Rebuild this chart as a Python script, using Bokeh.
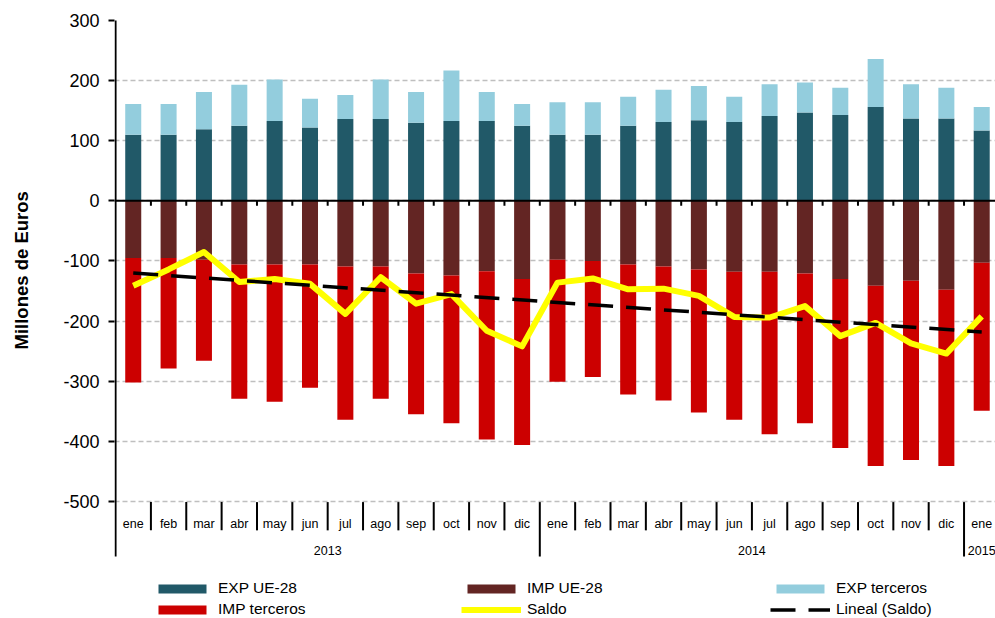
import numpy as np
from bokeh.plotting import figure
from bokeh.models import Range1d, FixedTicker, Span, Legend, LegendItem, Title
from bokeh.core.properties import value
from bokeh.embed import file_html
from bokeh.resources import INLINE

# ---------------- data ----------------
months = ["ene", "feb", "mar", "abr", "may", "jun", "jul", "ago", "sep", "oct", "nov", "dic",
          "ene", "feb", "mar", "abr", "may", "jun", "jul", "ago", "sep", "oct", "nov", "dic",
          "ene"]
years = ["2013"] * 12 + ["2014"] * 12 + ["2015"]

exp_ue28 = [110, 110, 119, 125, 133, 122, 136, 136, 130, 133, 133, 125,
            110, 110, 125, 131, 134, 131, 141, 147, 143, 156, 137, 137,
            117]
exp_terceros = [51, 51, 62, 68, 69, 48, 40, 66, 51, 84, 48, 36,
                54, 54, 48, 54, 57, 42, 53, 50, 45, 80, 57, 51,
                39]
imp_ue28 = [-95, -95, -98, -106, -106, -106, -109, -109, -121, -124, -117, -130,
            -98, -100, -106, -109, -114, -118, -118, -121, -130, -141, -133, -148,
            -103]
imp_terceros = [-207, -184, -168, -223, -228, -205, -255, -220, -234, -246, -280, -276,
                -203, -193, -216, -223, -238, -246, -270, -249, -281, -300, -298, -293,
                -246]
saldo = [-141, -114, -85, -135, -130, -138, -188, -127, -171, -155, -216, -242,
         -136, -129, -147, -146, -158, -193, -194, -175, -225, -203, -237, -254,
         -192]
lineal_saldo = [-120, -218]   # trend line value at first and last month
y_ticks = [300, 200, 100, 0, -100, -200, -300, -400, -500]

# ---------------- styles ----------------
C_EXP_UE = "#215968"
C_IMP_UE = "#632523"
C_EXP_T = "#93CDDD"
C_IMP_T = "#CC0000"
C_SALDO = "#FFFF00"
FONT = "Liberation Sans"

n = len(months)
x = np.arange(n) + 0.5
exp_ue_a = np.array(exp_ue28, dtype=float)
exp_t_a = np.array(exp_terceros, dtype=float)
imp_ue_a = np.array(imp_ue28, dtype=float)
imp_t_a = np.array(imp_terceros, dtype=float)

AX_BOTTOM = -591.5   # where the category axis lines end
p = figure(width=995, height=618, output_backend="svg", toolbar_location=None,
           x_range=Range1d(-0.03, 24.89), y_range=Range1d(-694.6, 300),
           x_axis_location=None, min_border_left=114, min_border_right=0,
           min_border_top=20, min_border_bottom=0)
p.outline_line_color = None
p.background_fill_color = "white"
p.xgrid.visible = False

# y axis (line drawn separately so that it stops at the category axis)
ax = p.yaxis[0]
ax.ticker = FixedTicker(ticks=y_ticks)
ax.major_label_overrides = {t: str(t) for t in y_ticks}
ax.axis_line_color = None
ax.major_tick_line_color = "black"
ax.major_tick_line_width = 2
ax.major_tick_out = 6
ax.major_tick_in = 0
ax.minor_tick_line_color = None
ax.major_label_standoff = 9
ax.major_label_text_font = FONT
ax.major_label_text_font_size = "18px"
ax.major_label_text_color = "black"
# blank spacer label: widens the axis panel so that the title sits further left
ax.axis_label = " "
ax.axis_label_text_font_size = "2px"
ax.axis_label_standoff = 18

g = p.ygrid[0]
g.ticker = FixedTicker(ticks=y_ticks)
g.grid_line_color = "#BFBFBF"
g.grid_line_width = 1.5
g.grid_line_dash = "5 3"

bw = 0.453
r_exp_ue = p.vbar(x=x, bottom=0, top=exp_ue_a, width=bw, fill_color=C_EXP_UE, line_color=None)
r_exp_t = p.vbar(x=x, bottom=exp_ue_a, top=exp_ue_a + exp_t_a, width=bw, fill_color=C_EXP_T, line_color=None)
r_imp_ue = p.vbar(x=x, bottom=0, top=imp_ue_a, width=bw, fill_color=C_IMP_UE, line_color=None)
r_imp_t = p.vbar(x=x, bottom=imp_ue_a, top=imp_ue_a + imp_t_a, width=bw, fill_color=C_IMP_T, line_color=None)

# zero axis line with ticks at category boundaries
p.add_layout(Span(location=0, dimension="width", line_color="black", line_width=2))
bounds = np.arange(1, n)
p.segment(x0=bounds, y0=0, x1=bounds, y1=-8, line_color="black", line_width=2)

# vertical axis line
p.segment(x0=[0], y0=[AX_BOTTOM], x1=[0], y1=[y_ticks[0] + 5], line_color="black", line_width=2)

# lines
r_saldo = p.line(x, saldo, line_color=C_SALDO, line_width=6, line_join="round")
r_lin = p.line([x[0], x[-1]], lineal_saldo, line_color="black", line_width=3.5,
               line_dash="25 13")

# category axis below (months + years)
year_b = [i for i in range(1, n) if years[i] != years[i - 1]]
month_b = [i for i in range(1, n) if years[i] == years[i - 1]]
p.segment(x0=month_b, y0=-501, x1=month_b, y1=-548, line_color="black", line_width=2)
p.segment(x0=year_b, y0=-501, x1=year_b, y1=AX_BOTTOM, line_color="black", line_width=2)
p.text(x=x, y=[-536.6] * n, text=months, text_align="center", text_baseline="middle",
       text_font=value(FONT), text_font_size="12.5px", text_color="black")
uy = []
for yv in years:
    if yv not in uy:
        uy.append(yv)
yx = [float(np.mean([x[i] for i in range(n) if years[i] == yv])) for yv in uy]
p.text(x=yx, y=[-581.5] * len(uy), text=uy, text_align="center", text_baseline="middle",
       text_font=value(FONT), text_font_size="12.5px", text_color="black")

# y axis title
p.add_layout(Title(text="Millones de Euros", align="left", offset=269, vertical_align="middle",
                   text_font=FONT, text_font_size="18.5px", text_font_style="bold",
                   text_color="black"), "left")

legend = Legend(items=[
    LegendItem(label="EXP UE-28", renderers=[r_exp_ue]),
    LegendItem(label="IMP UE-28", renderers=[r_imp_ue]),
    LegendItem(label="EXP terceros", renderers=[r_exp_t]),
    LegendItem(label="IMP terceros", renderers=[r_imp_t]),
    LegendItem(label="Saldo", renderers=[r_saldo]),
    LegendItem(label="Lineal (Saldo)", renderers=[r_lin]),
], orientation="horizontal", ncols=3, location=(38, 0),
    glyph_width=60, glyph_height=11, label_standoff=6, label_width=240, label_height=12,
    spacing=3, padding=0, margin=0, border_line_color=None, background_fill_alpha=0,
    label_text_font=FONT, label_text_font_size="15.5px", label_text_color="black")
p.add_layout(legend)

open("out.html", "w").write(file_html(p, INLINE))
